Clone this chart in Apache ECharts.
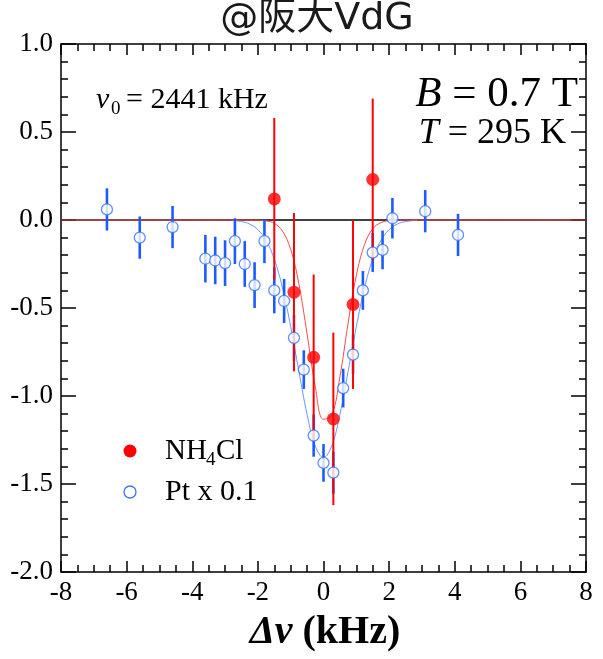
<!DOCTYPE html>
<html>
<head>
<meta charset="utf-8">
<script src="https://cdn.jsdelivr.net/npm/echarts@6/dist/echarts.min.js"></script>
<style>
  html, body { margin: 0; padding: 0; background: #fff; }
  #chart { width: 603px; height: 659px; }
</style>
</head>
<body>
<div id="chart"></div>
<script>
// Detuning (kHz) of each measured point and its signal, with 1-sigma errors.
const nh4clX   = [-1.5, -0.9, -0.3, 0.3, 0.9, 1.5];
const nh4clY   = [0.12, -0.41, -0.78, -1.13, -0.48, 0.23];
const nh4clErr = [0.46, 0.45, 0.47, 0.49, 0.48, 0.46];

const ptX   = [-6.6, -5.6, -4.6, -3.6, -3.3, -3.0, -2.7, -2.4, -2.1, -1.8, -1.5, -1.2, -0.9,
               -0.6, -0.3, 0.0, 0.3, 0.6, 0.9, 1.2, 1.5, 1.8, 2.1, 3.1, 4.1];
const ptY   = [0.06, -0.10, -0.04, -0.22, -0.23, -0.245, -0.12, -0.25, -0.37, -0.12, -0.40, -0.46, -0.67,
               -0.85, -1.225, -1.38, -1.435, -0.955, -0.765, -0.40, -0.185, -0.17, 0.01, 0.05, -0.085];
const ptErr = [0.12, 0.12, 0.12, 0.135, 0.135, 0.13, 0.13, 0.13, 0.13, 0.125, 0.13, 0.125, 0.13,
               0.11, 0.12, 0.107, 0.12, 0.11, 0.11, 0.11, 0.11, 0.11, 0.115, 0.12, 0.12];

// Fitted dip profiles
const nh4clFitX = [-8, -2.5, -2.25, -2.0, -1.75, -1.5, -1.25, -1.0, -0.75, -0.5, -0.25, 0.0,
                   0.25, 0.5, 0.75, 1.0, 1.25, 1.5, 1.75, 2.0, 2.25, 2.5, 8];
const nh4clFitY = [0, 0, -0.001, -0.001, -0.005, -0.019, -0.063, -0.167, -0.363, -0.648, -0.946, -1.132,
                   -1.110, -0.891, -0.586, -0.316, -0.140, -0.050, -0.015, -0.004, -0.001, 0, 0];

const ptFitX = [-2.75, -2.5, -2.25, -2.0, -1.75, -1.5, -1.25, -1.0, -0.75, -0.5, -0.25, 0.0,
                0.25, 0.5, 0.75, 1.0, 1.25, 1.5, 1.75, 2.0, 2.25, 2.5, 2.85];
const ptFitY = [-0.003, -0.009, -0.023, -0.055, -0.116, -0.222, -0.386, -0.606, -0.860, -1.105, -1.284, -1.35,
                -1.284, -1.105, -0.860, -0.606, -0.386, -0.222, -0.116, -0.055, -0.023, -0.009, -0.002];

const baselineX = [-8, 8];
const baselineY = [0, 0];

// Axis ranges and label steps
const xRange = [-8, 8], xStep = 2;
const yRange = [-2.0, 1.0], yStep = 0.5;

const SERIF = '"Liberation Serif", "Times New Roman", serif';
const RED = '#ff0000';
const BLUE = '#1c5cff';

const zip = (xs, ys) => xs.map((x, i) => [x, ys[i]]);
const bars = (xs, ys, es) => xs.map((x, i) => [x, ys[i] - es[i], ys[i] + es[i]]);

function errorBar(color, width) {
  return function (params, api) {
    const x = api.value(0);
    const a = api.coord([x, api.value(1)]);
    const b = api.coord([x, api.value(2)]);
    return {
      type: 'line',
      shape: { x1: a[0], y1: a[1], x2: b[0], y2: b[1] },
      style: { stroke: color, lineWidth: width }
    };
  };
}

const tickLabel = { fontFamily: SERIF, fontSize: 27, color: '#000' };

function xAx(pos, labels) {
  return {
    type: 'value', position: pos, min: xRange[0], max: xRange[1], interval: xStep,
    axisLine: { show: true, onZero: false, lineStyle: { color: '#000', width: 1.5 } },
    axisTick: { show: true, inside: true, length: 11, lineStyle: { color: '#000', width: 1.5 } },
    minorTick: { show: true, splitNumber: 4, length: 7, lineStyle: { color: '#000', width: 1.5 } },
    axisLabel: Object.assign({ show: labels, margin: 7 }, tickLabel),
    splitLine: { show: false }
  };
}
function yAx(pos, labels) {
  return {
    type: 'value', position: pos, min: yRange[0], max: yRange[1], interval: yStep,
    axisLine: { show: true, onZero: false, lineStyle: { color: '#000', width: 1.5 } },
    axisTick: { show: true, inside: true, length: 15, lineStyle: { color: '#000', width: 1.5 } },
    minorTick: { show: true, splitNumber: 5, length: 7, lineStyle: { color: '#000', width: 1.5 } },
    axisLabel: Object.assign({ show: labels, margin: 8, formatter: v => v.toFixed(1) }, tickLabel),
    splitLine: { show: false }
  };
}

const option = {
  animation: false,
  backgroundColor: '#fff',
  grid: { left: 61, top: 44, width: 525, height: 528 },
  xAxis: [xAx('bottom', true), xAx('top', false)],
  yAxis: [yAx('left', true), yAx('right', false)],
  series: [
    {
      type: 'line', data: zip(baselineX, baselineY), symbol: 'none',
      lineStyle: { color: '#000', width: 1.5 }, z: 1, silent: true
    },
    {
      name: 'Pt fit', type: 'line', data: zip(ptFitX, ptFitY), symbol: 'none', smooth: 0.4,
      lineStyle: { color: '#6a96ff', width: 1 }, z: 2
    },
    {
      name: 'NH4Cl fit', type: 'line', data: zip(nh4clFitX, nh4clFitY), symbol: 'none', smooth: 0.4,
      lineStyle: { color: '#ff4a4a', width: 1 }, z: 2
    },
    {
      type: 'custom', renderItem: errorBar(BLUE, 2.6), data: bars(ptX, ptY, ptErr),
      encode: { x: 0, y: [1, 2] }, z: 3
    },
    {
      type: 'custom', renderItem: errorBar(RED, 2), data: bars(nh4clX, nh4clY, nh4clErr),
      encode: { x: 0, y: [1, 2] }, z: 4
    },
    {
      name: 'Pt x 0.1', type: 'scatter', data: zip(ptX, ptY), symbol: 'circle', symbolSize: 11,
      itemStyle: { color: '#fff', borderColor: '#3a72ff', borderWidth: 1.3 }, z: 5
    },
    {
      name: 'NH4Cl', type: 'scatter', data: zip(nh4clX, nh4clY), symbol: 'circle', symbolSize: 13,
      itemStyle: { color: RED }, z: 6
    }
  ],
  graphic: [
    // heading
    {
      type: 'text', x: 317, y: 19,
      style: {
        text: '@阪大VdG', align: 'center', verticalAlign: 'middle', fill: '#1a1a1a',
        font: '38px "DejaVu Sans", "Noto Sans CJK JP", sans-serif'
      }
    },
    // resonance frequency
    { type: 'text', x: 96, y: 100, style: { text: 'ν', font: 'italic 30px ' + SERIF, fill: '#000', verticalAlign: 'middle' } },
    { type: 'text', x: 111, y: 109, style: { text: '0', font: '19px ' + SERIF, fill: '#000', verticalAlign: 'middle' } },
    { type: 'text', x: 126, y: 100, style: { text: '= 2441 kHz', font: '30px ' + SERIF, fill: '#000', verticalAlign: 'middle' } },
    // field and temperature
    {
      type: 'text', x: 578, y: 95,
      style: {
        text: '{i|B} = 0.7 T', align: 'right', verticalAlign: 'middle', fill: '#000',
        font: '43px ' + SERIF,
        rich: { i: { fontStyle: 'italic', fontFamily: SERIF, fontSize: 43 } }
      }
    },
    {
      type: 'text', x: 566, y: 134,
      style: {
        text: '{i|T} = 295 K', align: 'right', verticalAlign: 'middle', fill: '#000',
        font: '36px ' + SERIF,
        rich: { i: { fontStyle: 'italic', fontFamily: SERIF, fontSize: 36 } }
      }
    },
    // legend
    { type: 'circle', shape: { cx: 130, cy: 451, r: 6.5 }, style: { fill: RED } },
    { type: 'text', x: 165, y: 451, style: { text: 'NH', font: '29px ' + SERIF, fill: '#000', verticalAlign: 'middle' } },
    { type: 'text', x: 206, y: 460, style: { text: '4', font: '19px ' + SERIF, fill: '#000', verticalAlign: 'middle' } },
    { type: 'text', x: 216, y: 451, style: { text: 'Cl', font: '29px ' + SERIF, fill: '#000', verticalAlign: 'middle' } },
    { type: 'circle', shape: { cx: 130, cy: 492, r: 6 }, style: { fill: '#fff', stroke: '#3a72ff', lineWidth: 1.3 } },
    { type: 'text', x: 165, y: 492, style: { text: 'Pt x 0.1', font: '30px ' + SERIF, fill: '#000', verticalAlign: 'middle' } },
    // x axis title
    {
      type: 'text', x: 325, y: 633,
      style: {
        text: '{i|Δν} (kHz)', align: 'center', verticalAlign: 'middle', fill: '#000',
        font: 'bold 40px ' + SERIF,
        rich: { i: { fontStyle: 'italic', fontWeight: 'bold', fontFamily: SERIF, fontSize: 40 } }
      }
    }
  ]
};

const chart = echarts.init(document.getElementById('chart'));
chart.setOption(option);
</script>
</body>
</html>
